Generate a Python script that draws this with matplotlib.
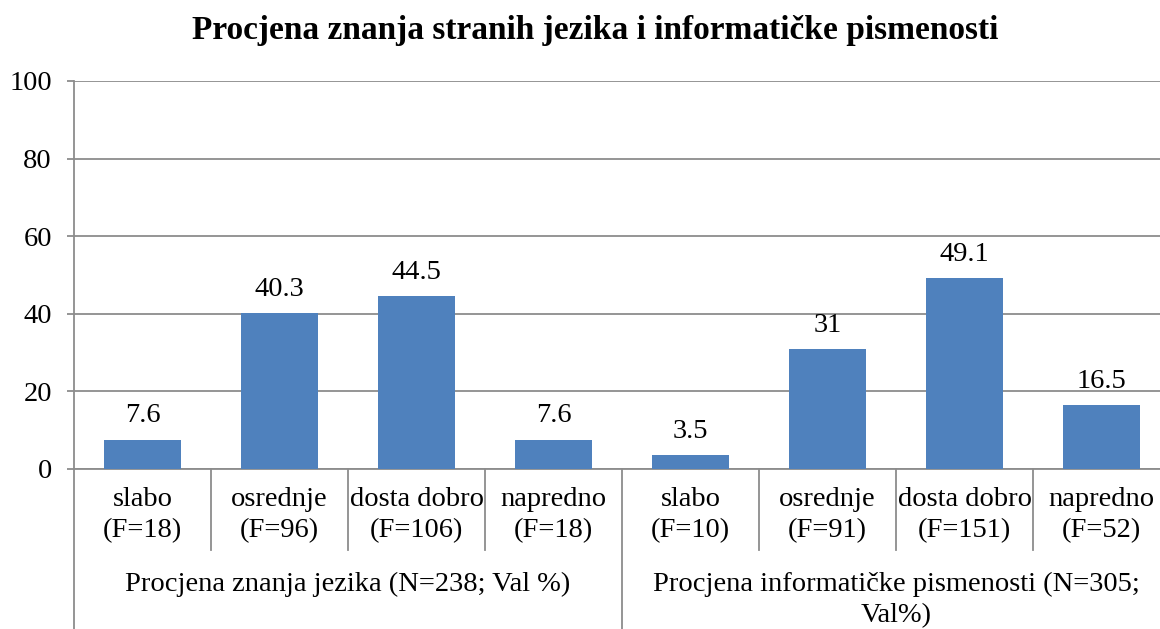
import matplotlib
matplotlib.use('Agg')
import matplotlib.pyplot as plt
import matplotlib.transforms as mtransforms

plt.rcParams['font.family'] = ['Liberation Serif', 'DejaVu Serif']

# data
categories = ['slabo', 'osrednje', 'dosta dobro', 'napredno',
              'slabo', 'osrednje', 'dosta dobro', 'napredno']
freqs = ['F=18', 'F=96', 'F=106', 'F=18', 'F=10', 'F=91', 'F=151', 'F=52']
values = [7.6, 40.3, 44.5, 7.6, 3.5, 31, 49.1, 16.5]
value_labels = ['7.6', '40.3', '44.5', '7.6', '3.5', '31', '49.1', '16.5']
groups = ['Procjena znanja jezika (N=238; Val %)',
          'Procjena informatičke pismenosti (N=305;\nVal%)']
group_size = 4
yticks = [0, 20, 40, 60, 80, 100]
title = 'Procjena znanja stranih jezika i informatičke pismenosti'

bar_color = '#4F81BD'
grid_color = '#8C8C8C'

W, H = 1160, 629
fig = plt.figure(figsize=(W / 100, H / 100), dpi=100)
ax = fig.add_axes([74 / W, (H - 469) / H, 1096 / W, 388 / H])

x = list(range(len(values)))
ax.bar(x, values, width=0.555, color=bar_color, zorder=3)
ax.set_xlim(-0.5, len(values) - 0.5)
ax.set_ylim(0, 100)
ax.set_yticks(yticks)
ax.set_yticklabels([str(t) for t in yticks], fontsize=20.5)
ax.tick_params(axis='y', length=5, width=1.3, color=grid_color, pad=11)
ax.set_xticks([])
ax.yaxis.grid(True, color=grid_color, linewidth=1.3, zorder=0)
ax.set_axisbelow(True)
for s in ['top', 'right']:
    ax.spines[s].set_visible(False)
ax.spines['left'].set_color(grid_color)
ax.spines['left'].set_linewidth(1.3)
ax.spines['bottom'].set_color(grid_color)
ax.spines['bottom'].set_linewidth(1.3)

# value labels
for xi, v, lab in zip(x, values, value_labels):
    ax.annotate(lab, (xi, v), xytext=(0, 8), textcoords='offset points',
                ha='center', va='bottom', fontsize=20.5)

trans = mtransforms.blended_transform_factory(ax.transData, ax.transAxes)
px = 1 / 388.0  # one pixel in axes fraction (vertical)

# category labels
for xi, c, f in zip(x, categories, freqs):
    ax.text(xi, -46 * px, c + '\n(' + f + ')', transform=trans,
            ha='center', va='center', fontsize=20.5, linespacing=1.35)

# dividers between categories
for b in range(1, len(values)):
    if b % group_size == 0:
        continue
    ax.plot([b - 0.5, b - 0.5], [0, -81 * px], transform=trans,
            color=grid_color, linewidth=1.3, clip_on=False)

# group dividers and group labels
for g in range(len(groups) + 1):
    xb = g * group_size - 0.5
    ax.plot([xb, xb], [0, -165 * px], transform=trans,
            color=grid_color, linewidth=1.3, clip_on=False)
for g, name in enumerate(groups):
    xc = g * group_size + (group_size - 1) / 2
    ax.text(xc, -103 * px, name, transform=trans, ha='center', va='top',
            fontsize=20.5, linespacing=1.3)

fig.text(595 / W, 1 - 31 / H, title, ha='center', va='center',
         fontsize=24, fontweight='bold')

fig.savefig('out.png', dpi=100)
